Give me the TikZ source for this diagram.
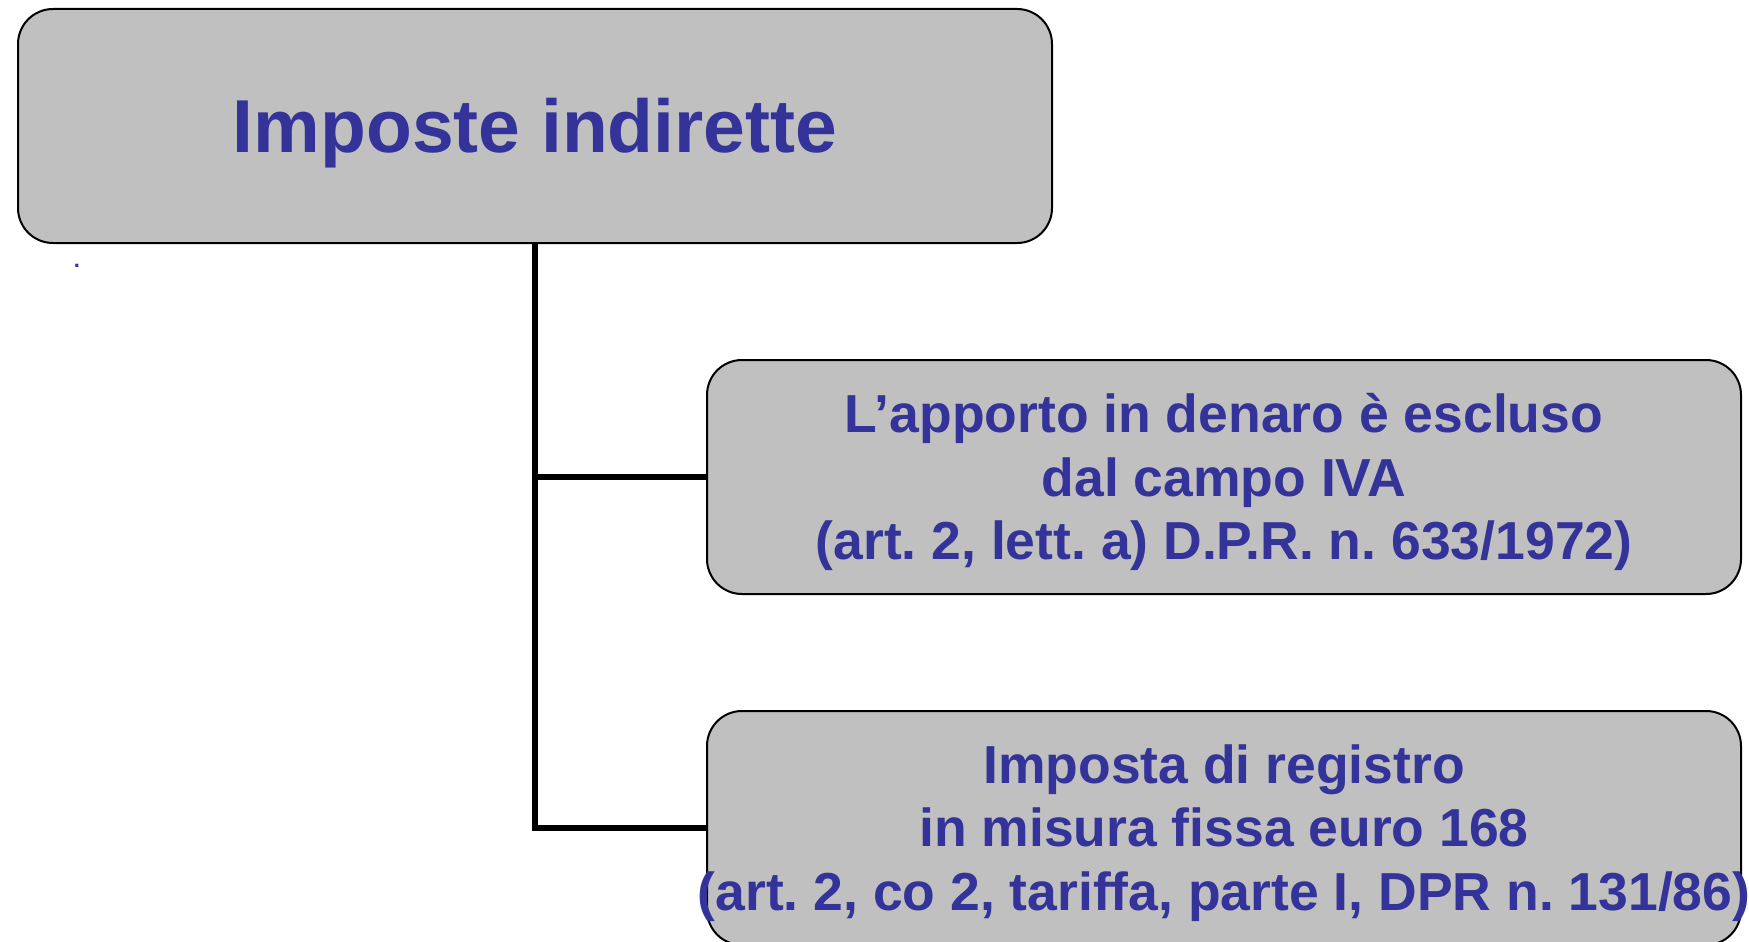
\documentclass[tikz,border=0pt]{standalone}
\usepackage{fontspec}
\setmainfont{Liberation Sans}
\frenchspacing
\definecolor{txtblue}{RGB}{51,51,153}
\definecolor{boxgray}{RGB}{192,192,192}
\begin{document}
\begin{tikzpicture}[x=1pt,y=-1pt,
  box/.style={draw=black,line width=2pt,fill=boxgray,rounded corners=35pt,
    minimum width=1034pt,minimum height=234pt,inner sep=0pt,anchor=north west},
  txt/.style={text=txtblue,font=\bfseries\fontsize{53.5}{63.5}\selectfont,align=center,inner sep=0pt},
  conn/.style={draw=black,line width=5.5pt}]
\useasboundingbox (0,0) rectangle (1749,942);
\node[box] (top) at (17,8) {};
\node[box] (b2) at (706,359) {};
\node[box] (b3) at (706,710) {};
\node[txt,font=\bfseries\fontsize{75}{90}\selectfont] (ttop) at ([yshift=-7pt]top.center) {Imposte indirette};
\node[txt] (t2) at ([yshift=-5pt]b2.center) {L’apporto in denaro è escluso\\dal campo IVA\\(art. 2, lett. a) D.P.R. n. 633/1972)};
\node[txt] (t3) at ([yshift=-5pt]b3.center) {Imposta di registro\\in misura fissa euro 168\\(art. 2, co 2, tariffa, parte I, DPR n. 131/86)};
\node[text=txtblue,font=\bfseries\fontsize{22}{24}\selectfont,inner sep=0pt] (dot) at (77,266) {.};
\draw[conn] (top.south) |- (b2.west);
\draw[conn] (top.south) |- (b3.west);
\end{tikzpicture}
\end{document}
